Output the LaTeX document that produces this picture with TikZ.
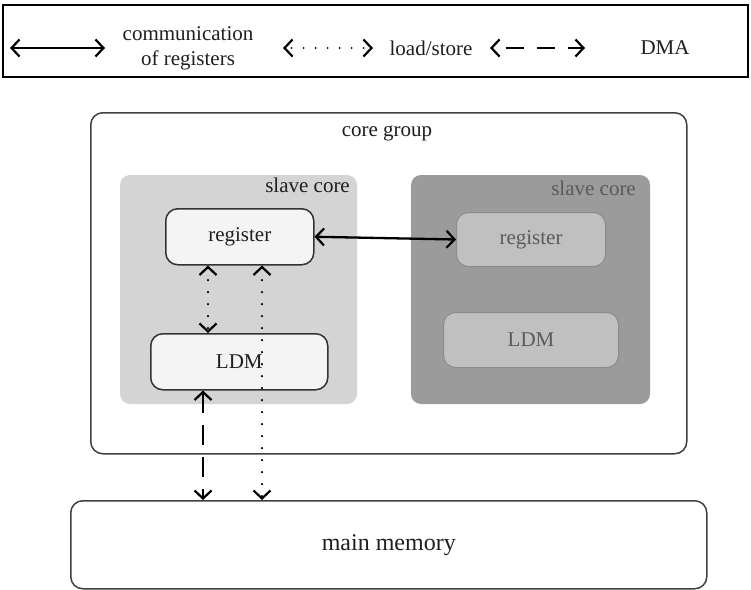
\documentclass[tikz,border=0pt]{standalone}
\usepackage{fontspec}
\setmainfont{Liberation Serif}
\newfontfamily\serifface{Liberation Serif}
\usetikzlibrary{arrows.meta}
\definecolor{outerfill}{HTML}{D4D4D4}
\definecolor{darkfill}{HTML}{9B9B9B}
\definecolor{innerfill}{HTML}{F4F4F4}
\definecolor{dimfill}{HTML}{C0C0C0}
\definecolor{dimtext}{HTML}{5A5A5A}
\definecolor{inktext}{HTML}{1E1E1E}
\tikzset{
  barb/.tip={Straight Barb[length=8pt,width=17pt,line width=2.2pt]},
  tip/.style={arrows={barb-barb}},
  comm/.style={tip, line width=2.3pt},
  ldst/.style={tip, line width=2.4pt, line cap=round, dash pattern=on 0pt off 12pt},
  dma/.style={tip, line width=2.4pt, dash pattern=on 20pt off 12pt},
  lbl/.style={font=\serifface\fontsize{21}{24}\selectfont, inner sep=0pt, text=inktext},
  corebox/.style={draw=black!75, line width=1.5pt, rounded corners=12pt},
  unitbox/.style={draw=black!80, line width=1.5pt, fill=innerfill, rounded corners=12pt},
  dimbox/.style={draw=darkfill!90!black, line width=1pt, fill=dimfill, rounded corners=12pt},
}
\begin{document}
\begin{tikzpicture}[x=1pt, y=-1pt]
\useasboundingbox (0,0) rectangle (751,589);

% legend
\draw[line width=1.8pt] (3,5) rectangle (748,77);
\coordinate (la1) at (10,48);  \coordinate (la2) at (105,48);
\coordinate (lb1) at (283,48); \coordinate (lb2) at (373,48);
\coordinate (lc1) at (490,48); \coordinate (lc2) at (585,48);
\draw[comm] (la1) -- (la2);
\draw[tip, line width=2.2pt, line cap=round, dash pattern=on 0pt off 12pt, dash phase=-6pt] (lb1) -- (lb2);
\draw[tip, line width=2.3pt, dash pattern=on 18pt off 13pt, dash phase=-13pt] (lc1) -- (lc2);
\node[lbl, align=center] (lcomm) at (188,48) {communication\\[1pt]of registers};
\node[lbl] (lload) at (431,48) {load/store};
\node[lbl] (ldma) at (665,48) {DMA};

% core group
\node[corebox, minimum width=596pt, minimum height=341pt, anchor=north west] (cg) at (90,112) {};
\node[lbl] (cgt) at (387,133) {core group};

% first slave core
\fill[outerfill, rounded corners=10pt] (120,175) rectangle (357,404);
\node[lbl, anchor=north east] (sc1) at (350,178) {slave core};
\node[unitbox, minimum width=148pt, minimum height=56pt, anchor=north west] (reg1) at (165,208) {};
\node[lbl] at (reg1.center) {register};
\node[unitbox, minimum width=177pt, minimum height=56pt, anchor=north west] (ldm1) at (150,333) {};
\node[lbl] at (ldm1.center) {LDM};

% second slave core
\fill[darkfill, rounded corners=10pt] (411,175) rectangle (650,404);
\node[lbl, anchor=north east, text=dimtext] (sc2) at (636,181) {slave core};
\node[dimbox, minimum width=149pt, minimum height=54pt, anchor=north west] (reg2) at (456,212) {};
\node[lbl, text=dimtext] at (reg2.center) {register};
\node[dimbox, minimum width=175pt, minimum height=55pt, anchor=north west] (ldm2) at (443,312) {};
\node[lbl, text=dimtext] at (ldm2.center) {LDM};

% main memory
\node[corebox, minimum width=636pt, minimum height=88pt, anchor=north west] (mem) at (70,500) {};
\node[lbl, font=\serifface\fontsize{24}{28}\selectfont] at (mem.center) {main memory};

% connectors
\draw[comm] (reg1.east) -- (reg2.west);
\draw[ldst] (reg1.south -| 208,0) -- (ldm1.north -| 208,0);
\draw[ldst] (reg1.south -| 262,0) -- (mem.north -| 262,0);
\draw[dma] (ldm1.south -| 203,0) -- (mem.north -| 203,0);
\end{tikzpicture}
\end{document}
